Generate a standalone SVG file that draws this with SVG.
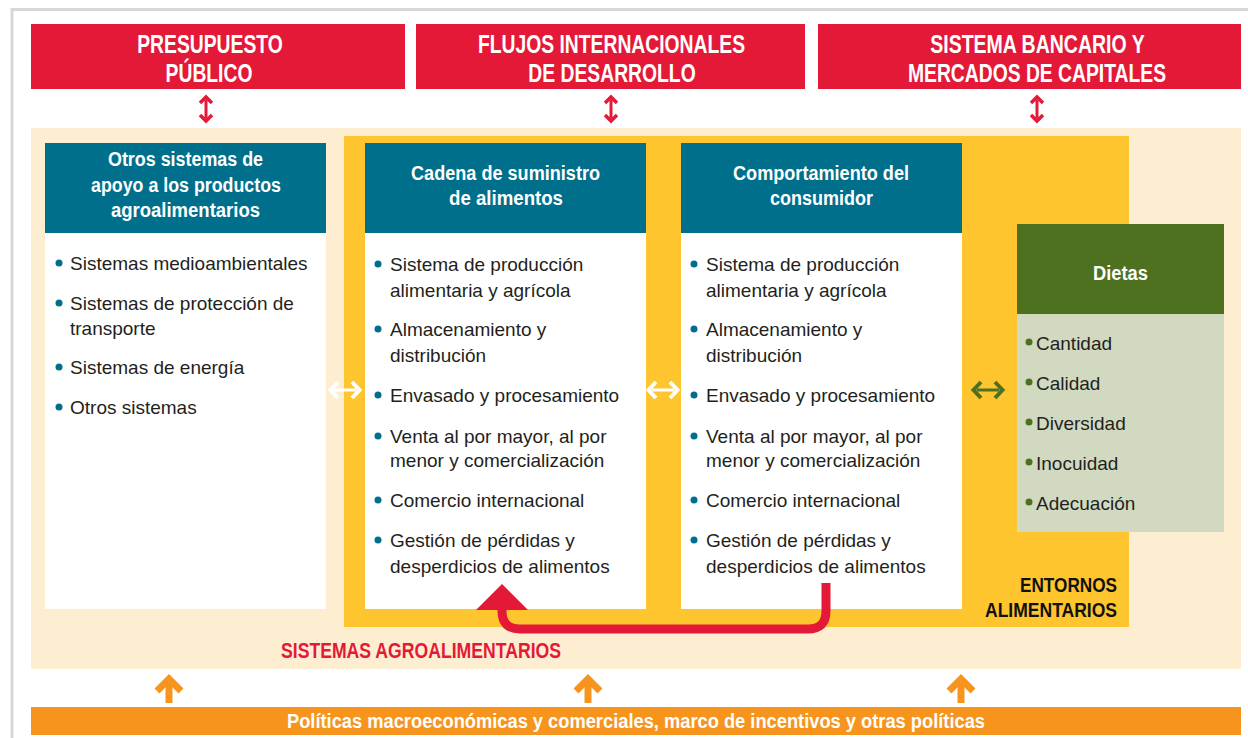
<svg xmlns="http://www.w3.org/2000/svg" width="1248" height="738" viewBox="0 0 1248 738">
<defs>
<style>
.hdr{font-family:"Liberation Sans",Arial,sans-serif;font-weight:bold;fill:#fff}
.big{font-size:26px;text-anchor:middle}
.body{font-family:"Liberation Sans",Arial,sans-serif;font-size:19px;fill:#231f20}
.red{fill:#e31937}
.teal{fill:#006f8b}
.white{fill:#fff}
.bt{fill:#006f8b}
.bg{fill:#4e7120}
</style>
<g id="dblH">
<line x1="-11" y1="0" x2="11" y2="0" stroke-width="3"/>
<polyline points="-7,-8 -14.5,0 -7,8" fill="none" stroke-width="4"/>
<polyline points="7,-8 14.5,0 7,8" fill="none" stroke-width="4"/>
</g>
<g id="dblV">
<line x1="0" y1="-9" x2="0" y2="9" stroke-width="3"/>
<polyline points="-6,-6 0,-12 6,-6" fill="none" stroke-width="3.5"/>
<polyline points="-6,6 0,12 6,6" fill="none" stroke-width="3.5"/>
</g>
<g id="upArrow">
<line x1="0" y1="6" x2="0" y2="29" stroke-width="7"/>
<polyline points="-12,17 0,5 12,17" fill="none" stroke-width="7"/>
</g>
</defs>
<rect width="1248" height="738" fill="#fff"/>
<path d="M12 738 V9.5 H1248" fill="none" stroke="#d5d7da" stroke-width="3"/>

<g id="presupuesto">
<rect x="31" y="24" width="374" height="65" class="red"/>
<text class="hdr big" transform="translate(210,53) scale(0.743,1)">PRESUPUESTO</text>
<text class="hdr big" transform="translate(209,82) scale(0.743,1)">PÚBLICO</text>
</g>
<g id="flujos">
<rect x="416" y="24" width="389" height="65" class="red"/>
<text class="hdr big" transform="translate(611.5,53) scale(0.743,1)">FLUJOS INTERNACIONALES</text>
<text class="hdr big" transform="translate(612,82) scale(0.743,1)">DE DESARROLLO</text>
</g>
<g id="bancario">
<rect x="818" y="24" width="423" height="65" class="red"/>
<text class="hdr big" transform="translate(1037.5,53) scale(0.75,1)">SISTEMA BANCARIO Y</text>
<text class="hdr big" transform="translate(1037,82) scale(0.743,1)">MERCADOS DE CAPITALES</text>
</g>

<g id="sistemas-agroalimentarios">
<rect x="31" y="128" width="1210" height="541" fill="#fdeed2"/>
<text x="281" y="658" font-family="Liberation Sans,Arial,sans-serif" font-weight="bold" font-size="22" fill="#e31937" textLength="280" lengthAdjust="spacingAndGlyphs">SISTEMAS AGROALIMENTARIOS</text>
</g>

<g id="entornos-alimentarios">
<rect x="344" y="136" width="785" height="491" fill="#fec52e"/>
<text x="1020" y="592" font-family="Liberation Sans,Arial,sans-serif" font-weight="bold" font-size="20" fill="#111" textLength="97" lengthAdjust="spacingAndGlyphs">ENTORNOS</text>
<text x="985" y="617" font-family="Liberation Sans,Arial,sans-serif" font-weight="bold" font-size="20" fill="#111" textLength="132" lengthAdjust="spacingAndGlyphs">ALIMENTARIOS</text>
</g>

<g id="otros-sistemas">
<rect x="45" y="143" width="281" height="90" class="teal"/>
<rect x="45" y="233" width="281" height="376" class="white"/>
<text class="hdr" font-size="19.5" x="108" y="166" textLength="155" lengthAdjust="spacingAndGlyphs">Otros sistemas de</text>
<text class="hdr" font-size="19.5" x="91" y="192" textLength="190" lengthAdjust="spacingAndGlyphs">apoyo a los productos</text>
<text class="hdr" font-size="19.5" x="111" y="217" textLength="149" lengthAdjust="spacingAndGlyphs">agroalimentarios</text>
<g class="bt">
<circle cx="59" cy="263" r="3.5"/>
<circle cx="59" cy="303" r="3.5"/>
<circle cx="59" cy="367" r="3.5"/>
<circle cx="59" cy="407" r="3.5"/>
</g>
<text class="body" x="70" y="270">Sistemas medioambientales</text>
<text class="body" x="70" y="310">Sistemas de protección de</text>
<text class="body" x="70" y="335">transporte</text>
<text class="body" x="70" y="374">Sistemas de energía</text>
<text class="body" x="70" y="414">Otros sistemas</text>
</g>

<g id="cadena-suministro">
<rect x="365" y="143" width="281" height="90" class="teal"/>
<rect x="365" y="233" width="281" height="376" class="white"/>
<text class="hdr" font-size="19.5" x="411" y="180" textLength="189" lengthAdjust="spacingAndGlyphs">Cadena de suministro</text>
<text class="hdr" font-size="19.5" x="449" y="205" textLength="114" lengthAdjust="spacingAndGlyphs">de alimentos</text>
<g class="bt">
<circle cx="378" cy="264" r="3.5"/>
<circle cx="378" cy="329" r="3.5"/>
<circle cx="378" cy="395" r="3.5"/>
<circle cx="378" cy="436" r="3.5"/>
<circle cx="378" cy="500" r="3.5"/>
<circle cx="378" cy="540" r="3.5"/>
</g>
<text class="body" x="390" y="271">Sistema de producción</text>
<text class="body" x="390" y="297">alimentaria y agrícola</text>
<text class="body" x="390" y="336">Almacenamiento y</text>
<text class="body" x="390" y="362">distribución</text>
<text class="body" x="390" y="402">Envasado y procesamiento</text>
<text class="body" x="390" y="443">Venta al por mayor, al por</text>
<text class="body" x="390" y="467">menor y comercialización</text>
<text class="body" x="390" y="507">Comercio internacional</text>
<text class="body" x="390" y="547">Gestión de pérdidas y</text>
<text class="body" x="390" y="573">desperdicios de alimentos</text>
</g>

<g id="comportamiento-consumidor">
<rect x="681" y="143" width="281" height="90" class="teal"/>
<rect x="681" y="233" width="281" height="376" class="white"/>
<text class="hdr" font-size="19.5" x="733" y="180" textLength="176" lengthAdjust="spacingAndGlyphs">Comportamiento del</text>
<text class="hdr" font-size="19.5" x="770" y="205" textLength="103" lengthAdjust="spacingAndGlyphs">consumidor</text>
<g class="bt">
<circle cx="694" cy="264" r="3.5"/>
<circle cx="694" cy="329" r="3.5"/>
<circle cx="694" cy="395" r="3.5"/>
<circle cx="694" cy="436" r="3.5"/>
<circle cx="694" cy="500" r="3.5"/>
<circle cx="694" cy="540" r="3.5"/>
</g>
<text class="body" x="706" y="271">Sistema de producción</text>
<text class="body" x="706" y="297">alimentaria y agrícola</text>
<text class="body" x="706" y="336">Almacenamiento y</text>
<text class="body" x="706" y="362">distribución</text>
<text class="body" x="706" y="402">Envasado y procesamiento</text>
<text class="body" x="706" y="443">Venta al por mayor, al por</text>
<text class="body" x="706" y="467">menor y comercialización</text>
<text class="body" x="706" y="507">Comercio internacional</text>
<text class="body" x="706" y="547">Gestión de pérdidas y</text>
<text class="body" x="706" y="573">desperdicios de alimentos</text>
</g>

<g id="dietas">
<rect x="1017" y="224" width="207" height="90" fill="#4e7120"/>
<rect x="1017" y="314" width="207" height="218" fill="#d1dac1"/>
<text class="hdr" font-size="19.5" x="1093" y="280" textLength="55" lengthAdjust="spacingAndGlyphs">Dietas</text>
<g class="bg">
<circle cx="1029" cy="342" r="3.5"/>
<circle cx="1029" cy="382" r="3.5"/>
<circle cx="1029" cy="422" r="3.5"/>
<circle cx="1029" cy="462" r="3.5"/>
<circle cx="1029" cy="502" r="3.5"/>
</g>
<text class="body" x="1036" y="350">Cantidad</text>
<text class="body" x="1036" y="390">Calidad</text>
<text class="body" x="1036" y="430">Diversidad</text>
<text class="body" x="1036" y="470">Inocuidad</text>
<text class="body" x="1036" y="510">Adecuación</text>
</g>

<g id="politicas">
<rect x="31" y="707" width="1210" height="28" fill="#f7941e"/>
<text class="hdr" font-size="19.5" x="287" y="728" textLength="698" lengthAdjust="spacingAndGlyphs">Políticas macroeconómicas y comerciales, marco de incentivos y otras políticas</text>
</g>

<g id="connectors">
<use href="#dblV" x="206" y="109" stroke="#e31937"/>
<use href="#dblV" x="611" y="109" stroke="#e31937"/>
<use href="#dblV" x="1037" y="109" stroke="#e31937"/>
<use href="#dblH" x="345" y="390" stroke="#fff"/>
<use href="#dblH" x="663" y="390" stroke="#fff"/>
<use href="#dblH" x="988" y="390" stroke="#4e7120"/>
<use href="#upArrow" x="169" y="674" stroke="#f7941e"/>
<use href="#upArrow" x="588" y="674" stroke="#f7941e"/>
<use href="#upArrow" x="961" y="674" stroke="#f7941e"/>
<path d="M826 583 V611 Q826 629 808 629 H520 Q502 629 502 611 V600" fill="none" stroke="#e31937" stroke-width="9"/>
<polygon points="502,584 476,610 528,610" fill="#e31937"/>
</g>
</svg>
